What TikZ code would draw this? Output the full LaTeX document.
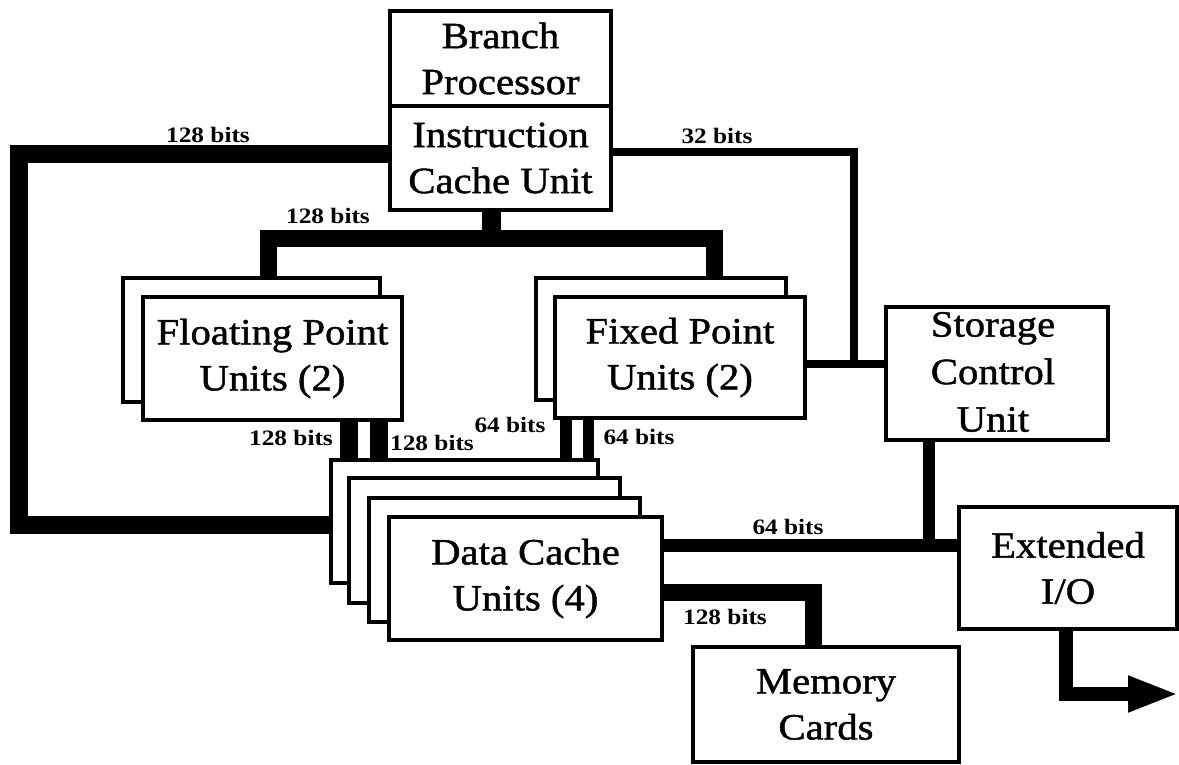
\documentclass[tikz,border=0pt]{standalone}
\usepackage{fontspec}
\usetikzlibrary{arrows.meta}
\newfontfamily\boxfont{Liberation Serif}[FakeStretch=1.1, FakeBold=1.2]
\newfontfamily\lblfont{Liberation Serif}[FakeStretch=1.15]
\tikzset{
  box/.style={draw, line width=3.5pt, fill=white, inner sep=0pt, align=center,
    font=\boxfont\fontsize{37}{46}\selectfont},
  boxtext/.style={inner sep=0pt, align=center, font=\boxfont\fontsize{37}{47.5}\selectfont},
  lbl/.style={inner sep=0pt, font=\lblfont\bfseries\fontsize{22}{24}\selectfont},
  bus/.style={line width=#1, line join=miter, line cap=butt},
}
\begin{document}
\begin{tikzpicture}[x=1pt, y=-1pt]
\fill[white] (0,0) rectangle (1179,764);
\useasboundingbox (0,0) rectangle (1179,764);

% boxes
\node[box, minimum width=221pt, minimum height=95pt]  (bp)  at (500.5,58.5) {Branch\\Processor};
\node[box, minimum width=221pt, minimum height=104pt] (icu) at (500.5,158) {Instruction\\Cache Unit};

\node[box, minimum width=257pt, minimum height=124pt] (fpb) at (251.5,340) {};
\node[box, minimum width=259pt, minimum height=123pt] (fp)  at (272.5,358.5) {Floating Point\\Units (2)};

\node[box, minimum width=250pt, minimum height=122pt] (fxb) at (661,339) {};
\node[box, minimum width=250pt, minimum height=121pt] (fx)  at (680,357.5) {Fixed Point\\Units (2)};

\node[box, minimum width=222pt, minimum height=133pt] (scu) at (997,373.5) {};
\node[boxtext] (scut) at (993,372) {Storage\\Control\\Unit};

\node[box, minimum width=267pt, minimum height=123pt] (dc1) at (464.5,521.5) {};
\node[box, minimum width=271pt, minimum height=125pt] (dc2) at (484.5,540.5) {};
\node[box, minimum width=271pt, minimum height=124pt] (dc3) at (504.5,560) {};
\node[box, minimum width=273pt, minimum height=123pt] (dc)  at (525.5,578.5) {Data Cache\\Units (4)};

\node[box, minimum width=218pt, minimum height=122pt] (io)  at (1068,568) {Extended\\I/O};
\node[box, minimum width=266pt, minimum height=115pt] (mem) at (826,704.5) {Memory\\Cards};

% connectors
\draw[bus=18pt] (icu.west |- 0,154) -| (19,525) -- (dc1.west |- 0,525);
\draw[bus=8pt] (icu.east |- 0,152) -| (854,364);
\draw[bus=8pt] (fx.east |- 0,364) -- (scu.west |- 0,364);
\draw[bus=19pt] (icu.south -| 491,0) -- (491,238);
\draw[bus=17pt] (fpb.north -| 268,0) |- (714,238) -- (fxb.north -| 714,0);
\draw[bus=18pt] (fp.south -| 349,0) -- (dc1.north -| 349,0);
\draw[bus=18pt] (fp.south -| 379,0) -- (dc1.north -| 379,0);
\draw[bus=12pt] (fx.south -| 566,0) -- (dc1.north -| 566,0);
\draw[bus=11pt] (fx.south -| 588,0) -- (dc1.north -| 588,0);
\draw[bus=13pt] (dc.east |- 0,545) -- (io.west |- 0,545);
\draw[bus=12pt] (scu.south -| 929,0) -- (929,545);
\draw[bus=17pt] (dc.east |- 0,592) -| (mem.north -| 813,0);
\coordinate (out) at (1179,694);
\draw[bus=14pt, -{Triangle[length=51pt, width=33pt]}] (io.south -| 1066,0) |- (out);

% labels
\node[lbl] (l1) at (208,135) {128 bits};
\node[lbl] (l2) at (717,136) {32 bits};
\node[lbl] (l3) at (328,216) {128 bits};
\node[lbl] (l4) at (291,438) {128 bits};
\node[lbl] (l5) at (432,443) {128 bits};
\node[lbl] (l6) at (510,425) {64 bits};
\node[lbl] (l7) at (639,437) {64 bits};
\node[lbl] (l8) at (788,527) {64 bits};
\node[lbl] (l9) at (725,617) {128 bits};
\end{tikzpicture}
\end{document}
